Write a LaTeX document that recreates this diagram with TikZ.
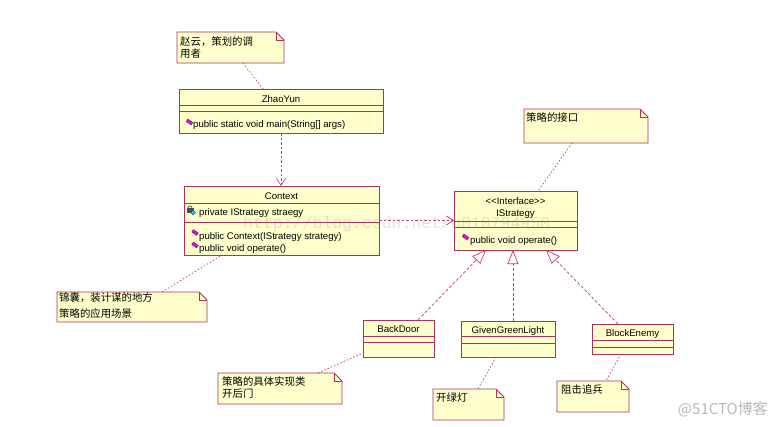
\documentclass[tikz,border=0pt]{standalone}
\usepackage{fontspec}
\setmainfont{Liberation Sans}
\newfontfamily\cjk{Noto Sans CJK SC}
\newfontfamily\wmono{Liberation Mono}
\usetikzlibrary{arrows.meta,calc}
\definecolor{umlline}{HTML}{B03060}
\definecolor{umlfill}{HTML}{FFFFCC}
\definecolor{linkc}{HTML}{C04070}
\definecolor{opmag}{HTML}{E010D0}
\definecolor{oppurp}{HTML}{600060}
\definecolor{atcyan}{HTML}{20C0E0}

\newcommand\umlclass[7]{%
  \node[classbox, minimum width=#4pt, minimum height=#5pt] (#1) at (#2,#3) {};
  \draw[cline] ($(#1.north west)+(0,#6)$) -- ($(#1.north east)+(0,#6)$);
  \draw[cline] ($(#1.north west)+(0,#7)$) -- ($(#1.north east)+(0,#7)$);
}
\newcommand\umlnote[5]{%
  \node[inner sep=0pt, outer sep=0pt, minimum width=#4pt, minimum height=#5pt, anchor=north west] (#1) at (#2,#3) {};
  \filldraw[draw=umlline, fill=umlfill, line width=0.8pt]
    (#1.north west) -- ([xshift=-8pt]#1.north east) -- ([yshift=-8pt]#1.north east)
    -- (#1.south east) -- (#1.south west) -- cycle;
  \draw[umlline, line width=0.6pt]
    ([xshift=-8pt]#1.north east) -- ([xshift=-8pt,yshift=-8pt]#1.north east) -- ([yshift=-8pt]#1.north east);
}

\begin{document}
\begin{tikzpicture}[x=1pt,y=-1pt,
  classbox/.style={draw=umlline, fill=umlfill, line width=0.8pt, inner sep=0pt, outer sep=0pt, anchor=north west},
  cline/.style={draw=umlline, line width=0.8pt},
  ctext/.style={font=\fontsize{9.6}{11}\selectfont, inner sep=0pt, text=black},
  ntext/.style={font=\cjk\fontsize{10.4}{12}\selectfont, inner sep=0pt, anchor=base west, text=black},
  notelink/.style={draw=linkc, line width=0.7pt, dash pattern=on 1.5pt off 2pt},
  dep/.style={draw=linkc, line width=0.7pt, dash pattern=on 2.5pt off 2pt, -{Straight Barb[length=7pt,width=9pt]}},
  real/.style={draw=linkc, line width=0.7pt, dash pattern=on 3pt off 2pt, -{Triangle[open,length=14pt,width=11pt]}},
  opicon/.pic={\draw[fill=opmag, draw=oppurp, line width=0.3pt, rotate=-35] (-3,-1.5) rectangle (3,1.5);},
  aticon/.pic={
    \draw[gray!70!black, line width=0.8pt] (-3,-1) arc[start angle=180, end angle=360, radius=2];
    \fill[gray!60!black] (-4.5,-1) rectangle (2.5,3.5);
    \draw[fill=atcyan, draw=blue!60!black, line width=0.3pt] (2,1) -- (4.5,3.5) -- (2,6) -- (-0.5,3.5) -- cycle;}
]
\useasboundingbox (0,0) rectangle (779,426);
\fill[white] (0,0) rectangle (779,426);

% ---------- classes ----------
\umlclass{zy}{179}{89}{204}{44}{16}{22}
\node[ctext, anchor=base] at (281,102) {ZhaoYun};
\pic at (189.5,122) {opicon};
\node[ctext, anchor=base west] at (193,127) {public static void main(String[] args)};

\umlclass{ctx}{184}{186}{195}{69}{17}{36}
\node[ctext, anchor=base] at (281.5,199) {Context};
\pic at (191,209) {aticon};
\node[ctext, anchor=base west] at (199,215.5) {private IStrategy straegy};
\pic at (195,232.5) {opicon};
\node[ctext, anchor=base west] at (199,239) {public Context(IStrategy strategy)};
\pic at (195,245) {opicon};
\node[ctext, anchor=base west] at (199,251) {public void operate()};

\umlclass{is}{454}{191}{123}{59}{30}{36}
\node[ctext, anchor=base] at (515.5,204) {<\kern0pt<Interface>\kern0pt>};
\node[ctext, anchor=base] at (515.5,216.5) {IStrategy};
\pic at (465.5,237) {opicon};
\node[ctext, anchor=base west] at (470,243) {public void operate()};

\umlclass{bd}{363}{320}{71}{37}{16}{22}
\node[ctext, anchor=base] at (398.5,332.5) {BackDoor};

\umlclass{ggl}{461}{321}{94}{36}{15}{22}
\node[ctext, anchor=base] at (508,333) {GivenGreenLight};

\umlclass{be}{592}{324}{81}{30}{16}{23}
\node[ctext, anchor=base] at (632.5,336.5) {BlockEnemy};

% ---------- notes ----------
\umlnote{n1}{177}{32}{107}{31}
\node[ntext] at (180,45) {赵云，策划的调};
\node[ntext] at (180,57) {用者};

\umlnote{n2}{524}{109}{124}{34}
\node[ntext] at (526,121) {策略的接口};

\umlnote{n3}{57}{292}{150}{30}
\node[ntext] at (59,301) {锦囊，装计谋的地方};
\node[ntext] at (59,317) {策略的应用场景};

\umlnote{n7}{218}{373}{124}{31}
\node[ntext] at (222,385) {策略的具体实现类};
\node[ntext] at (222,397) {开后门};

\umlnote{n4}{433}{389}{71}{31}
\node[ntext] at (436,401) {开绿灯};

\umlnote{n5}{557}{381}{72}{31}
\node[ntext] at (561,393) {阻击追兵};

% ---------- connectors ----------
\draw[notelink] ($(n1.south west)+(66,0)$) -- ($(zy.north west)+(84,0)$);
\draw[dep] (zy.south) -- (zy.south |- ctx.north);
\draw[dep] (ctx.east) -- (ctx.east -| is.west);
\draw[notelink] ($(n3.north west)+(105,0)$) -- ($(ctx.south west)+(38,0)$);
\draw[notelink] ($(n2.south west)+(48,0)$) -- ($(is.north west)+(84,0)$);
\draw[notelink] ($(n7.north west)+(100,0)$) -- ($(bd.south west)+(0,-4)$);
\draw[notelink] ($(ggl.south west)+(35,0)$) -- ($(n4.north west)+(45,0)$);
\draw[notelink] ($(be.south west)+(29,0)$) -- ($(n5.north west)+(49,0)$);

\draw[real] ($(bd.north west)+(55,0)$) -- ($(is.south west)+(32,0)$);
\draw[real] ($(ggl.north west)+(52,0)$) -- ($(is.south west)+(59,0)$);
\draw[real] ($(be.north west)+(26,0)$) -- ($(is.south west)+(92,0)$);

% ---------- watermarks ----------
\node[font=\wmono\fontsize{16.5}{17}\selectfont, text=gray, opacity=0.22, inner sep=0pt, anchor=base west] at (243,228) {http://blog.csdn.net/u010794950};
\node[font=\cjk\fontsize{15}{16}\selectfont, text=gray!55, inner sep=0pt, anchor=east] at (768,409) {@51CTO博客};
\end{tikzpicture}
\end{document}
